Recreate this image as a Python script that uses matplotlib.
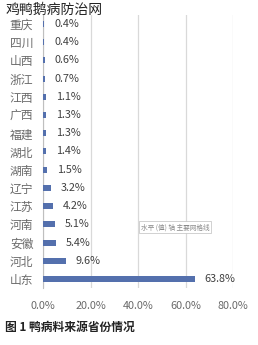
import matplotlib
matplotlib.use("Agg")
import matplotlib.pyplot as plt

plt.rcParams["font.family"] = ["Noto Sans CJK SC", "DejaVu Sans"]

provinces = ["重庆", "四川", "山西", "浙江", "江西", "广西", "福建", "湖北",
             "湖南", "辽宁", "江苏", "河南", "安徽", "河北", "山东"]
shares = [0.4, 0.4, 0.6, 0.7, 1.1, 1.3, 1.3, 1.4, 1.5, 3.2, 4.2, 5.1, 5.4, 9.6, 63.8]
xticks = [0, 20, 40, 60, 80]

BAR = "#5470ad"
GRAY = "#6a6a6a"

fig = plt.figure(figsize=(2.58, 3.45), dpi=100)
ax = fig.add_axes([0.167, 0.165, 0.736, 0.792])

y = list(range(len(provinces)))
ax.barh(y, shares, height=0.33, color=BAR, zorder=3)
ax.set_ylim(len(provinces) - 0.5, -0.5)
ax.set_xlim(0, 80)
ax.set_yticks(y)
ax.set_yticklabels(provinces, fontsize=8.5, color=GRAY)
ax.set_xticks(xticks)
ax.set_xticklabels([f"{v:.1f}%" for v in xticks], fontsize=7.8, color=GRAY)
ax.tick_params(axis="y", length=0, pad=7)
ax.tick_params(axis="x", length=0, pad=9)
for s in ["top", "right", "bottom"]:
    ax.spines[s].set_visible(False)
ax.spines["left"].set_color("#bfbfbf")
ax.spines["left"].set_linewidth(0.8)
ax.xaxis.grid(True, color="#d9d9d9", lw=0.9, zorder=0)
ax.set_axisbelow(True)

for i, v in enumerate(shares):
    ax.text(v + 4.2, i, f"{v}%", va="center", ha="left", fontsize=7.8, color="#404040")

# tooltip left over in the screenshot
fig.text(0.545, 0.335, "水平 (值) 轴 主要网格线", fontsize=4.8, color="#8a8a8a",
         bbox=dict(boxstyle="square,pad=0.3", fc="white", ec="#bfbfbf", lw=0.5))

fig.text(0.02, 0.972, "鸡鸭鹅病防治网", fontsize=10, color="#222222", va="center")
fig.text(0.02, 0.05, "图 1 鸭病料来源省份情况", fontsize=8.5, color="#222222",
         va="center", fontweight="bold")

fig.savefig("out.png", dpi=100)
